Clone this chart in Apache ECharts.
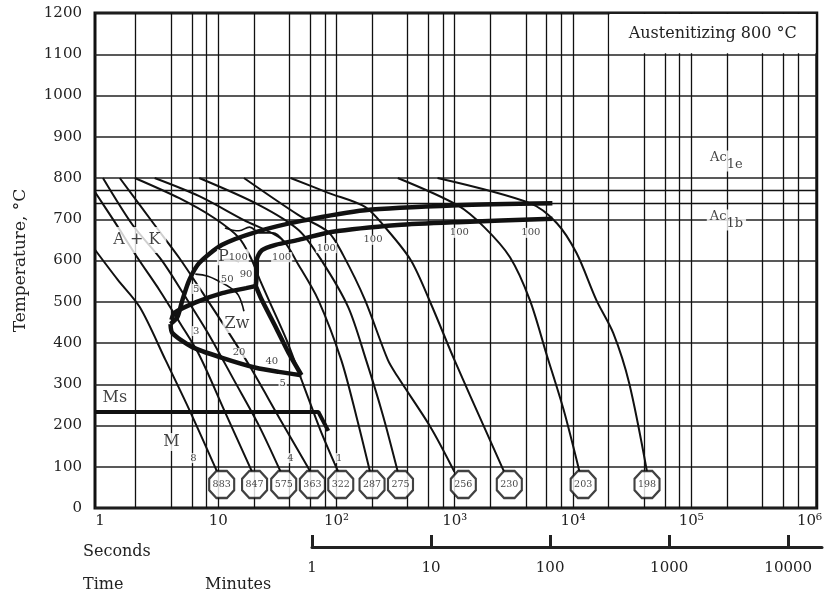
<!DOCTYPE html>
<html><head><meta charset="utf-8">
<script src="https://cdn.jsdelivr.net/npm/echarts@6/dist/echarts.min.js"></script>
<style>html,body{margin:0;padding:0;background:#fff}#c{width:825px;height:595px}</style>
</head><body><div id="c"></div>
<script>
// ---------- data ----------
const secondLabels = ['1','10','10²','10³','10⁴','10⁵','10⁶'];
const timeMin = 0.908, timeMax = 1153000;
const minuteTicks = [1,10,100,1000,10000];
const gridTimes = [2,4,6,8,10,20,40,60,80,100,200,400,600,800,1000,2000,4000,6000,8000,
  10000,20000,40000,60000,80000,100000,200000,400000,600000,800000];
const acTemps = [770, 740];
const msLine = [[0.908,233],[70.3,233],[85.3,187]];

// cooling curves [seconds, °C]
const c883 = [[0.908,626],[1.416,553],[2.17,487],[3.58,359],[5.70,238],[9.79,88]];
const c847 = [[0.908,766],[1.336,693],[2.085,606],[3.19,528],[4.69,451],[6.91,371],[11.2,238],[19.3,88]];
const c575 = [[1.06,800],[1.89,686],[3.32,601],[5.17,516],[8.39,419],[13.6,310],[22.0,201],[33.7,88]];
const c363 = [[1.47,800],[2.90,686],[4.69,606],[7.61,516],[12.35,424],[18.2,347],[33.7,213],[60.3,88]];
const c322 = [[1.97,800],[4.69,751],[9.24,703],[15.0,655],[18.9,606],[22.9,548],[26.8,504],[37.9,407],[52.6,298],[73.1,189],[103.5,88]];
const c287 = [[2.90,800],[6.91,756],[16.5,698],[34.4,652],[47.8,589],[70.3,504],[109.7,359],[146.6,225],[192.2,88]];
const c275 = [[6.91,800],[22.0,735],[47.8,674],[74.5,601],[125.7,487],[177.9,359],[247,225],[330,88]];
const c256 = [[16.5,800],[47.8,710],[85.3,669],[114,613],[174.5,504],[272,359],[330,318],[625,196],[994,88]];
const c230 = [[40.9,800],[85.3,764],[174.5,730],[257,681],[424.6,601],[625,497],[994,359],[1776,196],[2614,88]];
const c203 = [[330,800],[1054,734],[1776,681],[2935,608],[4322,504],[6003,371],[8340,238],[11360,88]];
const c198 = [[715.6,800],[4322,739],[7284,691],[10720,618],[15780,504],[21930,424],[29870,303],[42300,88]];
const coolingCurves = [c883,c847,c575,c363,c322,c287,c275,c256,c230,c203,c198];

// transformation lines
const startUpper = [[6700,739],[1054,734],[174.5,722],[50.6,696],[20.8,669],[10.8,638],[6.91,594],[5.70,553],[4.98,504],[4.52,463],[3.95,446]];
const bainiteLower = [[3.95,446],[4.10,424],[6.04,390],[10.8,364],[20.8,340],[32.5,330],[50.6,322]];
const bainiteRight = [[50.6,322],[39.4,376],[30.6,439],[23.4,504],[20.8,538]];
const pearliteEnd = [[20.8,538],[21.2,570],[21.2,601],[23.4,625],[30.6,638],[47.8,650],[90.4,669],[330,686],[1054,693],[6700,701]];
const bainiteStart = [[20.8,538],[17.2,533],[10.8,521],[6.52,499],[4.26,473],[4.02,456]];
const isoP100 = [[11.4,679],[15.0,672],[18.4,681],[22.5,667],[29,667],[35.2,648]];
const isoP90 = [[10.3,601],[12.8,603],[15.0,596]];
const isoP50 = [[6.4,567],[8.2,562],[10.4,548],[12.8,533],[14.8,516],[16.5,477]];

// hardness
const hexTimes = [10.7,20.3,35.8,62.6,108.7,200,348,1183,2896,12200,42300];
const hexValues = [883,847,575,363,322,287,275,256,230,203,198];
const hexTemp = 57;

// labels [text, seconds, °C]
const boxedLabels = [['A + K',2.05,650]];
const bigLabels = [['Zw',14.4,446],['Ms',1.336,267],['M',4.02,160]];
const pLabel = [['P','100',13.3,608]];
const smallLabels = [['90',17.2,567],['50',11.9,555],['5',6.52,531],['3',6.52,429],['20',15.0,376],
  ['40',28.4,356],['5',35.1,301],['8',6.16,121],['4',40.9,121],['1',105.6,121],
  ['100',34.4,608],['100',82.1,630],['100',203.7,650],['100',1095,667],['100',4406,667]];
const acLabels = [['Ac','1e',198600,841],['Ac','1b',198600,698]];
const boxCorners = [[20000,1200],[timeMax,1100]];
const boxText = 'Austenitizing 800 °C';

// ---------- chart ----------
const serif = 'DejaVu Serif';
const ink = '#111';
const chart = echarts.init(document.getElementById('c'));

function curve(data, width, smooth, z) {
  return {type:'line', data, symbol:'none', showSymbol:false, smooth, silent:true,
    lineStyle:{color:ink, width}, z:z||3, xAxisIndex:0, yAxisIndex:0};
}
function secFmt(v){ const e=Math.log10(v); const r=Math.round(e); return Math.abs(e-r)<1e-6 && r>=0 && r<secondLabels.length ? secondLabels[r] : ''; }
function minFmt(v){ const e=Math.log10(v); const r=Math.round(e); return Math.abs(e-r)<1e-6 ? String(Math.round(v)) : ''; }

const series = [];
series.push({type:'line', data:msLine, symbol:'none', silent:true, lineStyle:{color:ink,width:4}, z:3,
  markLine:{silent:true, symbol:'none', z:1, animation:false, label:{show:false},
    lineStyle:{color:ink, width:1.3, type:'solid'},
    data: gridTimes.map(v=>({xAxis:v})).concat(acTemps.map(v=>({yAxis:v})))}});
coolingCurves.forEach(c => series.push(curve(c, 2, 0.3)));
[startUpper, bainiteLower, pearliteEnd].forEach(c => series.push(curve(c, 4.5, 0.25, 4)));
[bainiteRight, bainiteStart].forEach(c => series.push(curve(c, 4.5, 0.2, 4)));
[isoP100, isoP90, isoP50].forEach(c => series.push(curve(c, 1.6, 0.4)));

const txt = (size) => ({show:true, position:'inside', color:ink, fontFamily:serif, fontSize:size,
  backgroundColor:'#fff', padding:[1,2]});
const labelSeries = (data, label) => ({type:'scatter', symbolSize:0, itemStyle:{color:'rgba(0,0,0,0)'},
  silent:true, z:10, zlevel:1, data, label});
series.push(labelSeries(boxedLabels.map(d=>[d[1],d[2],d[0]]),
  Object.assign(txt(16), {formatter:p=>p.data[2], padding:[5,6]})));
series.push(labelSeries(bigLabels.map(d=>[d[1],d[2],d[0]]),
  Object.assign(txt(16), {formatter:p=>p.data[2], padding:[1,2]})));
series.push(labelSeries(smallLabels.map(d=>[d[1],d[2],d[0]]),
  Object.assign(txt(10), {formatter:p=>p.data[2], padding:[0,1]})));
series.push(labelSeries(pLabel.map(d=>[d[2],d[3],d[0],d[1]]),
  Object.assign(txt(16), {formatter:p=>'{b|'+p.data[2]+'}{s|'+p.data[3]+'}', padding:[0,1],
    rich:{b:{fontFamily:serif,fontSize:16,color:ink}, s:{fontFamily:serif,fontSize:10,color:ink}}})));
series.push(labelSeries(acLabels.map(d=>[d[2],d[3],d[0],d[1]]),
  Object.assign(txt(13), {formatter:p=>'{a|'+p.data[2]+'}{b|'+p.data[3]+'}', padding:[0,3],
    rich:{a:{fontFamily:serif,fontSize:13,color:ink,padding:[0,0,6,0]}, b:{fontFamily:serif,fontSize:13,color:ink,padding:[8,0,0,0]}}})));
series.push({type:'scatter', silent:true, z:11, zlevel:1,
  symbol:'path://M29,0 L71,0 L100,29 L100,71 L71,100 L29,100 L0,71 L0,29 Z',
  symbolSize:[25,27], itemStyle:{color:'#fff', borderColor:ink, borderWidth:2.2},
  data: hexTimes.map((t,i)=>[t, hexTemp, hexValues[i]]),
  label:{show:true, position:'inside', formatter:p=>p.data[2], fontFamily:serif, fontSize:9.5, color:ink}});
series.push({type:'line', xAxisIndex:1, yAxisIndex:1, data:[], symbol:'none'});

const option = {
  animation:false,
  grid:[{left:95,right:3,top:13,bottom:87,show:true,borderColor:ink,borderWidth:3,backgroundColor:'rgba(0,0,0,0)'},
        {left:312,right:3,top:535,height:12}],
  xAxis:[{type:'log', gridIndex:0, min:timeMin, max:timeMax, axisLine:{show:false}, axisTick:{show:false},
          splitLine:{show:false}, minorTick:{show:false},
          axisLabel:{formatter:secFmt, margin:6, fontFamily:serif, fontSize:15, color:'#222', showMinLabel:true, showMaxLabel:true}},
         {type:'log', gridIndex:1, min:1, max:timeMax/60, position:'bottom',
          axisLine:{show:true, lineStyle:{color:'#222', width:3}},
          axisTick:{show:true, inside:true, length:12, lineStyle:{color:'#222', width:3}, customValues:minuteTicks},
          axisLabel:{customValues:minuteTicks, formatter:minFmt, margin:14, fontFamily:serif, fontSize:15, color:'#222'},
          splitLine:{show:false}}],
  yAxis:[{type:'value', gridIndex:0, min:0, max:1200, interval:100, axisLine:{show:false}, axisTick:{show:false},
          splitLine:{show:true, lineStyle:{color:'#222', width:1.5}},
          axisLabel:{margin:13, fontFamily:serif, fontSize:15, color:'#222', formatter:v=>String(v)},
          name:'Temperature, °C', nameLocation:'middle', nameGap:66, nameRotate:90,
          nameTextStyle:{fontFamily:serif, fontSize:17, color:'#222'}},
         {type:'value', gridIndex:1, show:false, min:0, max:1}],
  series
};
chart.setOption(option);

const p1 = chart.convertToPixel({gridIndex:0}, boxCorners[0]);
const p2 = chart.convertToPixel({gridIndex:0}, boxCorners[1]);
chart.setOption({graphic:[
  {type:'rect', z:50, zlevel:1, shape:{x:p1[0]+1, y:p1[1]+1, width:p2[0]-p1[0]-2, height:p2[1]-p1[1]-2}, style:{fill:'#fff'}},
  {type:'text', z:51, zlevel:1, x:(p1[0]+p2[0])/2, y:(p1[1]+p2[1])/2, style:{text:boxText, fill:'#222', font:'16px "DejaVu Serif"', align:'center', verticalAlign:'middle'}},
  {type:'text', z:51, x:83, y:552, style:{text:'Seconds', fill:'#222', font:'16px "DejaVu Serif"', verticalAlign:'middle'}},
  {type:'text', z:51, x:83, y:585, style:{text:'Time', fill:'#222', font:'16px "DejaVu Serif"', verticalAlign:'middle'}},
  {type:'text', z:51, x:205, y:585, style:{text:'Minutes', fill:'#222', font:'16px "DejaVu Serif"', verticalAlign:'middle'}}
]});
</script></body></html>
